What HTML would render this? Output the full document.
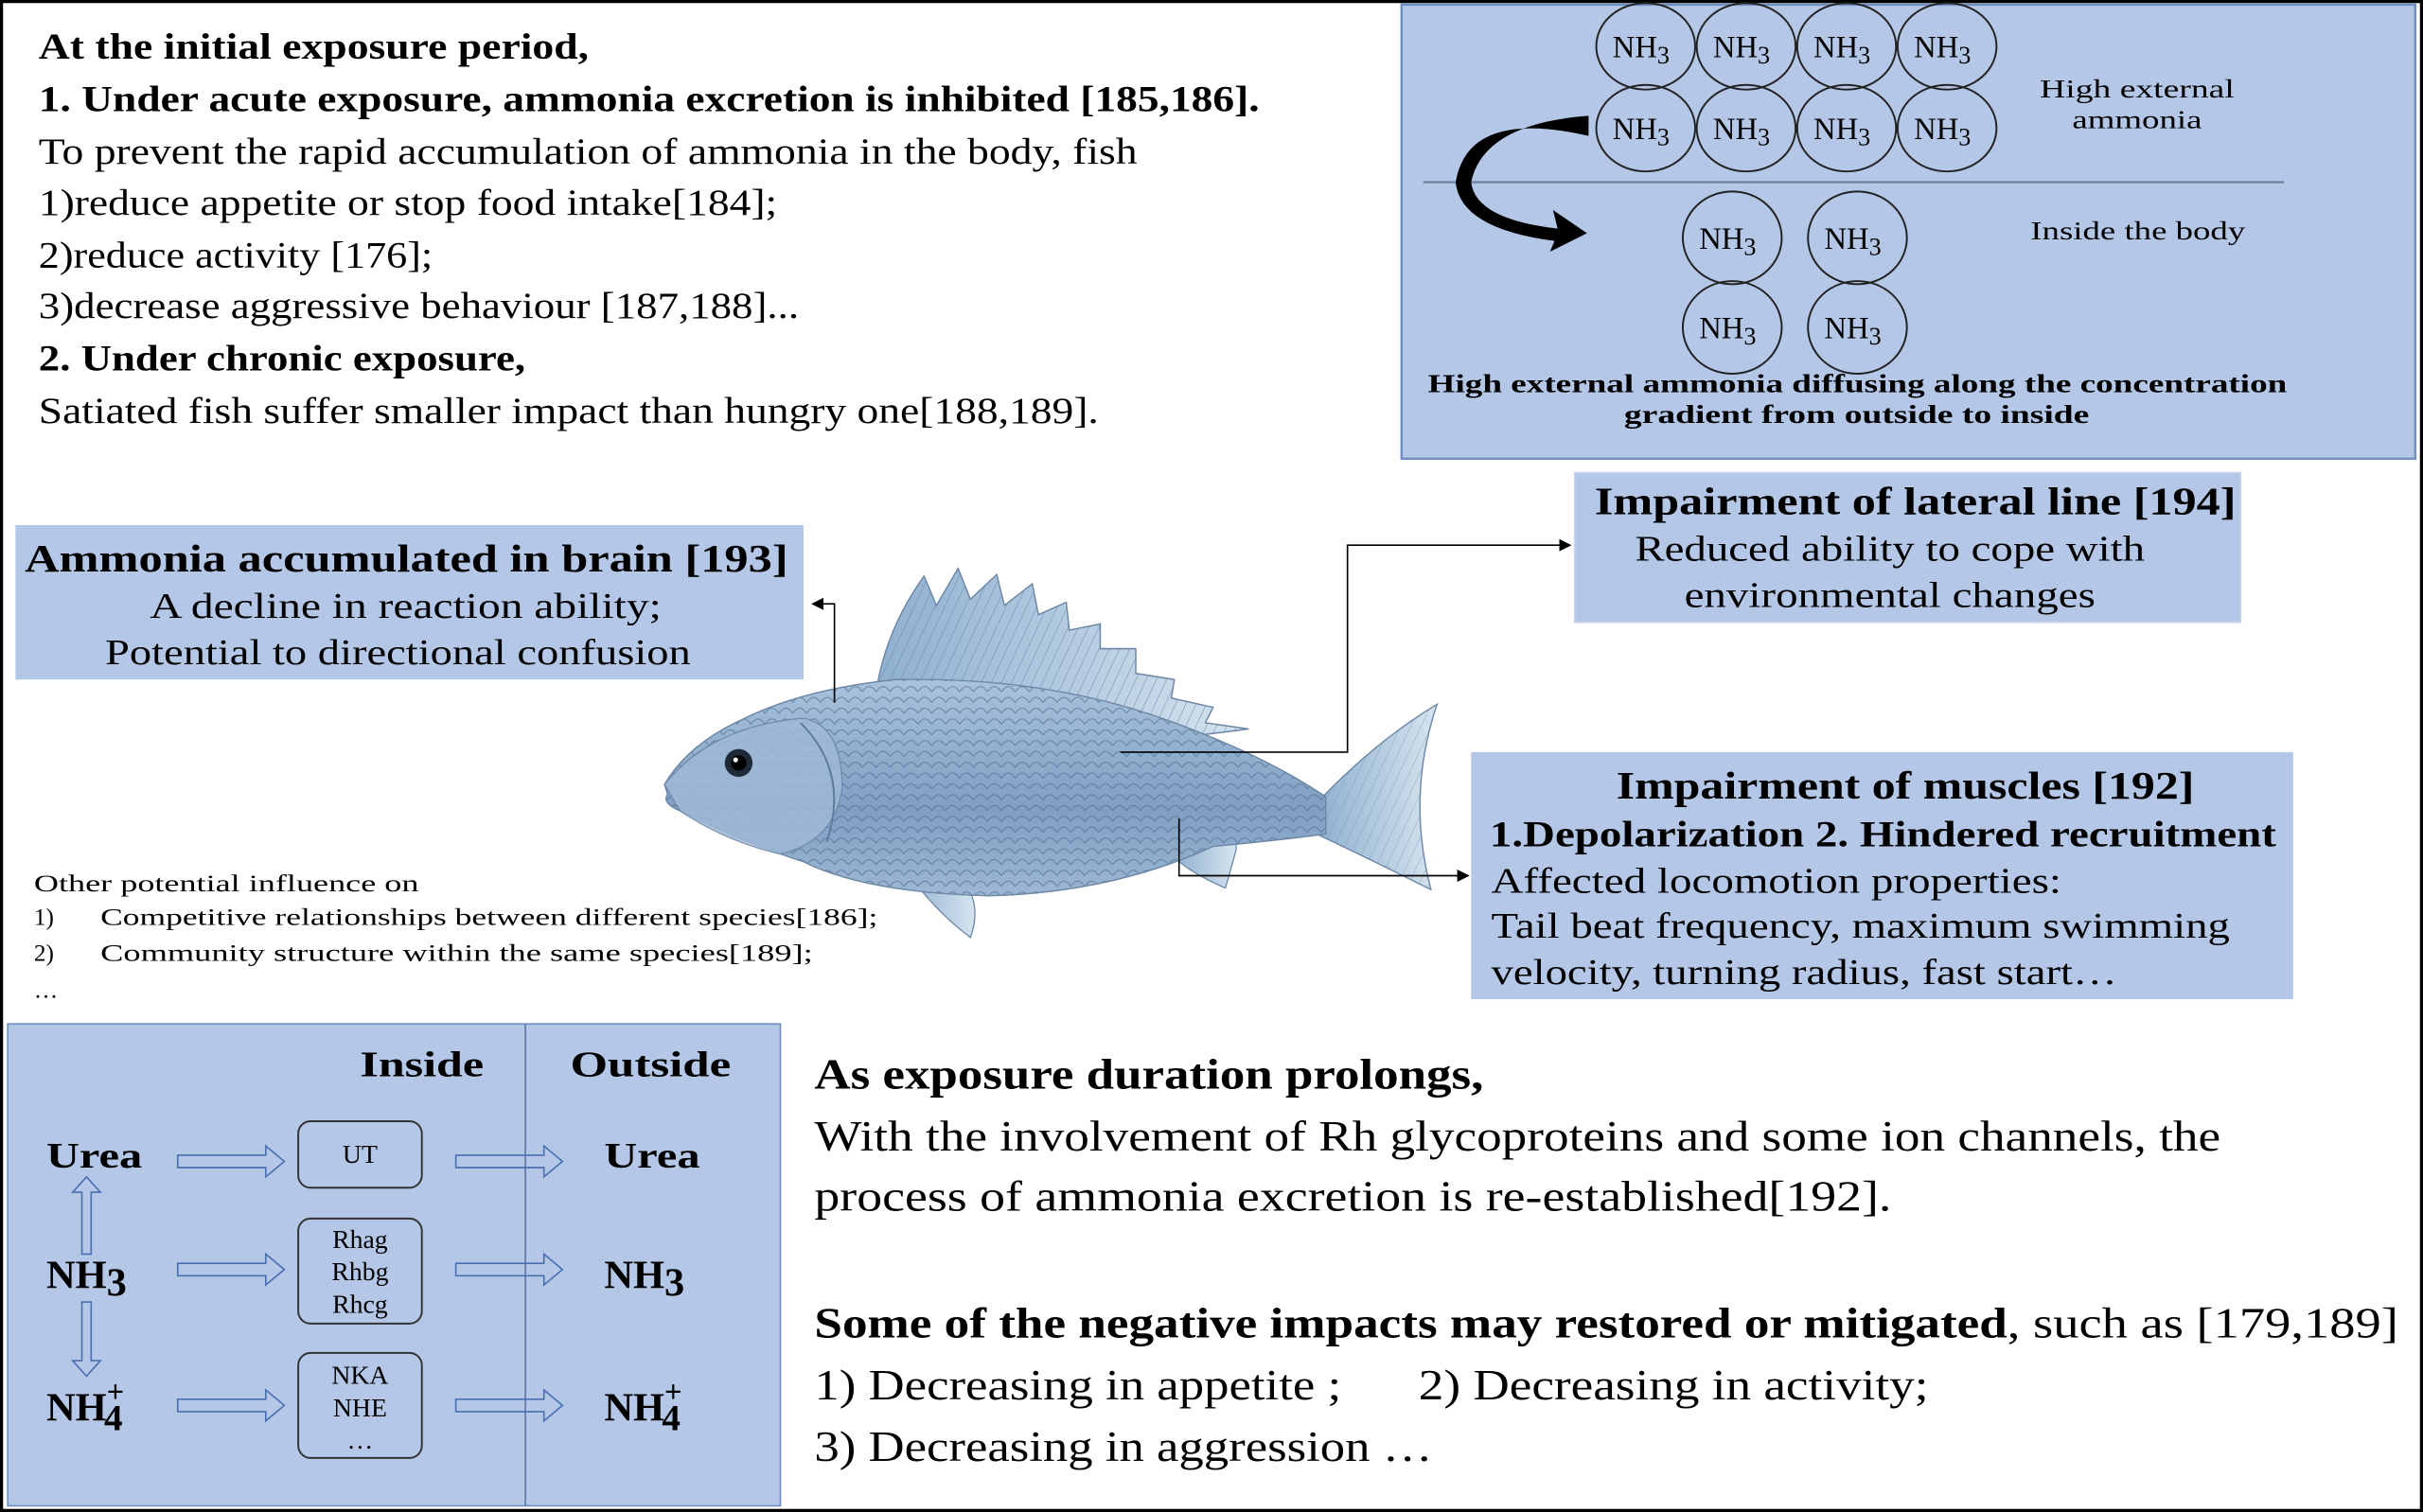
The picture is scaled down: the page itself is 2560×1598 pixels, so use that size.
<!DOCTYPE html>
<html><head><meta charset="utf-8"><style>
html,body{margin:0;padding:0;background:#fff}
svg{display:block}
text{font-family:"Liberation Serif",serif;fill:#000}
.b{font-weight:bold}
</style></head><body>
<svg width="2560" height="1598" viewBox="0 0 1568 979" preserveAspectRatio="none" xmlns="http://www.w3.org/2000/svg">
<defs>
<linearGradient id="fg" x1="0" y1="0" x2="0" y2="1">
<stop offset="0" stop-color="#a9c3dc"/><stop offset="0.6" stop-color="#7f9fc2"/><stop offset="1" stop-color="#9db7d3"/></linearGradient>
<linearGradient id="fin" x1="0" y1="0" x2="1" y2="0">
<stop offset="0" stop-color="#8fb0d0"/><stop offset="1" stop-color="#d6e4ef"/></linearGradient>
<pattern id="sc" width="9" height="7" patternUnits="userSpaceOnUse">
<path d="M0,7 Q4.5,0 9,7" fill="none" stroke="#4d6b8e" stroke-width="0.6"/></pattern>
<pattern id="ray" width="6" height="6" patternUnits="userSpaceOnUse" patternTransform="rotate(25)">
<line x1="0" y1="0" x2="0" y2="6" stroke="#6d87a6" stroke-width="0.6"/></pattern>
<marker id="ah" markerWidth="8" markerHeight="8" refX="7" refY="4" orient="auto" markerUnits="userSpaceOnUse"><path d="M0,0 L8,4 L0,8 Z" fill="#000"/></marker>
</defs>
<rect x="1" y="1" width="1566" height="977" fill="#fff" stroke="#000" stroke-width="2"/>

<g font-size="24">
<text x="25" y="38" class="b" textLength="356" lengthAdjust="spacingAndGlyphs">At the initial exposure period,</text>
<text x="25" y="72" class="b" textLength="790" lengthAdjust="spacingAndGlyphs">1. Under acute exposure, ammonia excretion is inhibited [185,186].</text>
<text x="25" y="106" textLength="711" lengthAdjust="spacingAndGlyphs">To prevent the rapid accumulation of ammonia in the body, fish</text>
<text x="25" y="139" textLength="478" lengthAdjust="spacingAndGlyphs">1)reduce appetite or stop food intake[184];</text>
<text x="25" y="173" textLength="255" lengthAdjust="spacingAndGlyphs">2)reduce activity [176];</text>
<text x="25" y="206" textLength="492" lengthAdjust="spacingAndGlyphs">3)decrease aggressive behaviour [187,188]...</text>
<text x="25" y="240" class="b" textLength="315" lengthAdjust="spacingAndGlyphs">2. Under chronic exposure,</text>
<text x="25" y="274" textLength="686" lengthAdjust="spacingAndGlyphs">Satiated fish suffer smaller impact than hungry one[188,189].</text>
</g>

<rect x="907" y="3" width="656" height="294" fill="#b4c7e7" stroke="#6f8fc0" stroke-width="1.5"/>
<g fill="none" stroke="#222" stroke-width="1.2">
<ellipse cx="1065" cy="30" rx="32" ry="28"/><ellipse cx="1130" cy="30" rx="32" ry="28"/><ellipse cx="1195" cy="30" rx="32" ry="28"/><ellipse cx="1260" cy="30" rx="32" ry="28"/>
<ellipse cx="1065" cy="83" rx="32" ry="28"/><ellipse cx="1130" cy="83" rx="32" ry="28"/><ellipse cx="1195" cy="83" rx="32" ry="28"/><ellipse cx="1260" cy="83" rx="32" ry="28"/>
<ellipse cx="1121" cy="154" rx="32" ry="30"/><ellipse cx="1202" cy="154" rx="32" ry="30"/>
<ellipse cx="1121" cy="212" rx="32" ry="30"/><ellipse cx="1202" cy="212" rx="32" ry="30"/>
</g>
<g font-size="20" text-anchor="middle">
<text x="1062" y="37">NH<tspan font-size="16" dy="4">3</tspan></text>
<text x="1127" y="37">NH<tspan font-size="16" dy="4">3</tspan></text>
<text x="1192" y="37">NH<tspan font-size="16" dy="4">3</tspan></text>
<text x="1257" y="37">NH<tspan font-size="16" dy="4">3</tspan></text>
<text x="1062" y="90">NH<tspan font-size="16" dy="4">3</tspan></text>
<text x="1127" y="90">NH<tspan font-size="16" dy="4">3</tspan></text>
<text x="1192" y="90">NH<tspan font-size="16" dy="4">3</tspan></text>
<text x="1257" y="90">NH<tspan font-size="16" dy="4">3</tspan></text>
<text x="1118" y="161">NH<tspan font-size="16" dy="4">3</tspan></text>
<text x="1199" y="161">NH<tspan font-size="16" dy="4">3</tspan></text>
<text x="1118" y="219">NH<tspan font-size="16" dy="4">3</tspan></text>
<text x="1199" y="219">NH<tspan font-size="16" dy="4">3</tspan></text>
</g>
<line x1="921" y1="118" x2="1478" y2="118" stroke="#6a7f99" stroke-width="1.3"/>
<g font-size="17">
<text x="1320" y="63" textLength="126" lengthAdjust="spacingAndGlyphs">High external</text>
<text x="1341" y="83" textLength="84" lengthAdjust="spacingAndGlyphs">ammonia</text>
<text x="1314" y="155" textLength="139" lengthAdjust="spacingAndGlyphs">Inside the body</text>
<text x="924" y="254" class="b" textLength="556" lengthAdjust="spacingAndGlyphs">High external ammonia diffusing along the concentration</text>
<text x="1051" y="274" class="b" textLength="301" lengthAdjust="spacingAndGlyphs">gradient from outside to inside</text>
</g>
<path d="M1028,75 Q960,80 952,118 Q955,142 1008,148 L1005,136 L1027,151 L1003,163 L1006,156 Q945,148 942,118 Q950,70 1028,88 Z" fill="#000"/>

<rect x="10" y="340" width="510" height="100" fill="#b4c7e7"/>
<text x="16" y="370" font-size="25" class="b" textLength="494" lengthAdjust="spacingAndGlyphs">Ammonia accumulated in brain [193]</text>
<text x="97" y="400" font-size="23" textLength="331" lengthAdjust="spacingAndGlyphs">A decline in reaction ability;</text>
<text x="68" y="430" font-size="23" textLength="379" lengthAdjust="spacingAndGlyphs">Potential to directional confusion</text>

<rect x="1019" y="306" width="431" height="97" fill="#b4c7e7" stroke="#c9d6ec" stroke-width="1"/>
<text x="1032" y="333" font-size="25" class="b" textLength="415" lengthAdjust="spacingAndGlyphs">Impairment of lateral line [194]</text>
<text x="1058" y="363" font-size="23" textLength="330" lengthAdjust="spacingAndGlyphs">Reduced ability to cope with</text>
<text x="1090" y="393" font-size="23" textLength="266" lengthAdjust="spacingAndGlyphs">environmental changes</text>

<rect x="952" y="487" width="532" height="160" fill="#b4c7e7"/>
<text x="1046" y="517" font-size="25" class="b" textLength="374" lengthAdjust="spacingAndGlyphs">Impairment of muscles [192]</text>
<text x="964" y="548" font-size="24" class="b" textLength="509" lengthAdjust="spacingAndGlyphs">1.Depolarization 2. Hindered recruitment</text>
<text x="965" y="578" font-size="23" textLength="369" lengthAdjust="spacingAndGlyphs">Affected locomotion properties:</text>
<text x="965" y="607" font-size="23" textLength="478" lengthAdjust="spacingAndGlyphs">Tail beat frequency, maximum swimming</text>
<text x="965" y="637" font-size="23" textLength="405" lengthAdjust="spacingAndGlyphs">velocity, turning radius, fast start…</text>

<g stroke="#6d87a6" stroke-width="0.8">
<path d="M568,442 Q575,405 598,373 L606,392 L620,368 L628,388 L645,372 L650,392 L668,378 L672,398 L690,390 L692,408 L712,404 L712,420 L735,420 L735,436 L760,440 L758,452 L785,458 L780,468 L808,472 L760,478 Z" fill="url(#fin)"/>
<path d="M568,442 Q575,405 598,373 L606,392 L620,368 L628,388 L645,372 L650,392 L668,378 L672,398 L690,390 L692,408 L712,404 L712,420 L735,420 L735,436 L760,440 L758,452 L785,458 L780,468 L808,472 L760,478 Z" fill="url(#ray)"/>
<path d="M852,520 Q890,480 930,456 Q910,515 926,576 Q890,558 852,540 Z" fill="url(#fin)"/>
<path d="M852,520 Q890,480 930,456 Q910,515 926,576 Q890,558 852,540 Z" fill="url(#ray)" opacity="0.6"/>
<path d="M585,562 Q605,590 628,607 Q636,585 622,568 Z" fill="url(#fin)"/>
<path d="M760,540 L800,532 L800,550 L793,575 Q770,565 760,555 Z" fill="url(#fin)"/>
<path d="M430,508 Q445,482 480,466 Q520,446 580,440 Q680,438 760,468 Q820,490 858,516 L858,540 Q820,545 785,548 Q720,578 640,580 Q560,578 520,558 Q480,545 440,525 Q428,520 432,514 Z" fill="url(#fg)"/>
<path d="M430,508 Q445,482 480,466 Q520,446 580,440 Q680,438 760,468 Q820,490 858,516 L858,540 Q820,545 785,548 Q720,578 640,580 Q560,578 520,558 Q480,545 440,525 Q428,520 432,514 Z" fill="url(#sc)" opacity="0.7"/>
<path d="M430,508 Q460,470 520,465 Q545,470 545,510 Q540,545 505,553 Q470,545 440,525 Z" fill="#9fbad6" opacity="0.85"/>
<path d="M518,468 Q550,500 535,545" fill="none" stroke="#5f7b9c" stroke-width="1.2"/>
</g>
<circle cx="478" cy="494" r="9" fill="#1e2a38"/><circle cx="478" cy="494" r="5" fill="#000"/><circle cx="476" cy="492" r="1.6" fill="#fff"/>

<g stroke="#000" stroke-width="1" fill="none">
<polyline points="540,455 540,391 526,391" marker-end="url(#ah)"/>
<polyline points="725,487 872,487 872,353 1016,353" marker-end="url(#ah)"/>
<polyline points="763,530 763,567 950,567" marker-end="url(#ah)"/>
</g>

<g font-size="15.5">
<text x="22" y="577" textLength="249" lengthAdjust="spacingAndGlyphs">Other potential influence on</text>
<text x="22" y="599">1)</text><text x="65" y="599" textLength="503" lengthAdjust="spacingAndGlyphs">Competitive relationships between different species[186];</text>
<text x="22" y="622">2)</text><text x="65" y="622" textLength="461" lengthAdjust="spacingAndGlyphs">Community structure within the same species[189];</text>
<text x="22" y="646">…</text>
</g>

<rect x="5" y="663" width="500" height="312" fill="#b4c7e7" stroke="#6f8fc0" stroke-width="1"/>
<line x1="340" y1="663" x2="340" y2="975" stroke="#5a78a8" stroke-width="1"/>
<g font-size="23" font-weight="bold">
<text x="233" y="697" textLength="80" lengthAdjust="spacingAndGlyphs">Inside</text>
<text x="369" y="697" textLength="104" lengthAdjust="spacingAndGlyphs">Outside</text>
<text x="30" y="756" textLength="62" lengthAdjust="spacingAndGlyphs">Urea</text>
<text x="391" y="756" textLength="62" lengthAdjust="spacingAndGlyphs">Urea</text>
</g>
<g font-size="26" font-weight="bold">
<text x="30" y="834">NH<tspan dy="5">3</tspan></text>
<text x="391" y="834">NH<tspan dy="5">3</tspan></text>
<text x="30" y="920">NH<tspan dy="-12" font-size="20">+</tspan><tspan dx="-13" dy="18" font-size="24">4</tspan></text>
<text x="391" y="920">NH<tspan dy="-12" font-size="20">+</tspan><tspan dx="-13" dy="18" font-size="24">4</tspan></text>
</g>
<g fill="none" stroke="#333" stroke-width="1.2">
<rect x="193" y="726" width="80" height="43" rx="8"/>
<rect x="193" y="789" width="80" height="68" rx="8"/>
<rect x="193" y="876" width="80" height="68" rx="8"/>
</g>
<g font-size="17" text-anchor="middle">
<text x="233" y="753">UT</text>
<text x="233" y="808">Rhag</text><text x="233" y="829">Rhbg</text><text x="233" y="850">Rhcg</text>
<text x="233" y="896">NKA</text><text x="233" y="917">NHE</text><text x="233" y="938">…</text>
</g>
<g fill="none" stroke="#4a6fb0" stroke-width="1">
<path d="M115,748 h57 v-6 l12,10 l-12,10 v-6 h-57 Z"/>
<path d="M295,748 h57 v-6 l12,10 l-12,10 v-6 h-57 Z"/>
<path d="M115,818 h57 v-6 l12,10 l-12,10 v-6 h-57 Z"/>
<path d="M295,818 h57 v-6 l12,10 l-12,10 v-6 h-57 Z"/>
<path d="M115,906 h57 v-6 l12,10 l-12,10 v-6 h-57 Z"/>
<path d="M295,906 h57 v-6 l12,10 l-12,10 v-6 h-57 Z"/>
<path d="M53,812 v-40 h-6 l9,-10 l9,10 h-6 v40 Z"/>
<path d="M53,843 v38 h-6 l9,10 l9,-10 h-6 v-38 Z"/>
</g>

<g font-size="28">
<text x="527" y="705" class="b" textLength="433" lengthAdjust="spacingAndGlyphs">As exposure duration prolongs,</text>
<text x="527" y="745" textLength="910" lengthAdjust="spacingAndGlyphs">With the involvement of Rh glycoproteins and some ion channels, the</text>
<text x="527" y="784" textLength="697" lengthAdjust="spacingAndGlyphs">process of ammonia excretion is re-established[192].</text>
<text x="527" y="866" class="b" textLength="772" lengthAdjust="spacingAndGlyphs">Some of the negative impacts may restored or mitigated</text>
<text x="1299" y="866" textLength="253" lengthAdjust="spacingAndGlyphs">, such as [179,189]</text>
<text x="527" y="906" textLength="341" lengthAdjust="spacingAndGlyphs">1) Decreasing in appetite ;</text>
<text x="918" y="906" textLength="330" lengthAdjust="spacingAndGlyphs">2) Decreasing in activity;</text>
<text x="527" y="946" textLength="400" lengthAdjust="spacingAndGlyphs">3) Decreasing in aggression …</text>
</g>
</svg>
</body></html>
